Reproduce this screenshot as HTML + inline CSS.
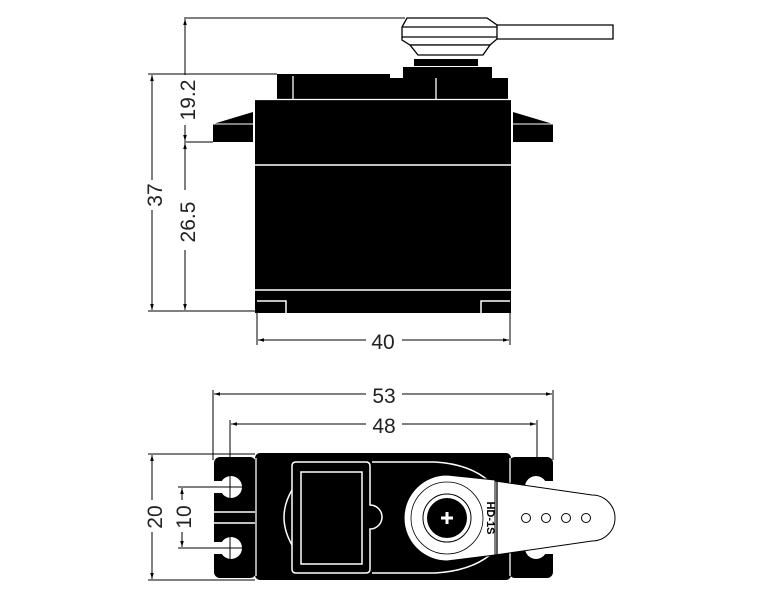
<!DOCTYPE html>
<html><head><meta charset="utf-8"><style>
html,body{margin:0;padding:0;background:#fff;}
svg{display:block;}
text{font-family:"Liberation Sans",sans-serif;fill:#222;}
</style></head><body>
<svg width="766" height="600" viewBox="0 0 766 600" xmlns="http://www.w3.org/2000/svg">
<defs>
<marker id="a" viewBox="0 0 10 10" refX="10" refY="5" markerWidth="8" markerHeight="6" orient="auto-start-reverse"><path d="M0,2 L10,5 L0,8z" fill="#000"/></marker>
</defs>
<g stroke="#000" stroke-width="1" fill="none">
<!-- top view extension lines -->
<line x1="184" y1="18" x2="405" y2="18"/>
<line x1="148" y1="74" x2="277" y2="74"/>
<line x1="184" y1="142" x2="213" y2="142"/>
<line x1="148" y1="311" x2="257" y2="311"/>
<line x1="257" y1="311" x2="257" y2="345"/>
<line x1="510" y1="311" x2="510" y2="345"/>
<!-- dims -->
<line x1="152" y1="75" x2="152" y2="310" marker-start="url(#a)" marker-end="url(#a)"/>
<line x1="185" y1="19" x2="185" y2="141" marker-start="url(#a)" marker-end="url(#a)"/>
<line x1="185" y1="143" x2="185" y2="310" marker-start="url(#a)" marker-end="url(#a)"/>
<line x1="258" y1="340" x2="509" y2="340" marker-start="url(#a)" marker-end="url(#a)"/>
</g>
<g fill="#fff">
<rect x="140" y="180" width="24" height="30"/>
<rect x="174" y="75" width="22" height="50"/>
<rect x="174" y="190" width="22" height="60"/>
<rect x="366" y="330" width="36" height="20"/>
</g>
<text x="162" y="195" font-size="21" transform="rotate(-90 162 195)" text-anchor="middle">37</text>
<text x="195" y="100" font-size="21" transform="rotate(-90 195 100)" text-anchor="middle">19.2</text>
<text x="195" y="222" font-size="21" transform="rotate(-90 195 222)" text-anchor="middle">26.5</text>
<text x="383" y="349" font-size="21" text-anchor="middle">40</text>

<!-- horn side -->
<g stroke="#000" stroke-width="1.3" fill="#fff">
<path d="M497,25 L613,25 L613,39 L497,39"/>
<path d="M407,18 L487,18 L497,25 L497,39 L490,45 L410,45 L402,40 L402,27 Z"/>
<line x1="402" y1="27" x2="497" y2="27"/>
<line x1="402" y1="37" x2="497" y2="37"/>
<path d="M410,45 L490,45 L483,55 L418,55 Z"/>
</g>
<rect x="414" y="59" width="64" height="7" fill="#000"/>
<rect x="403" y="67" width="89" height="11" fill="#000"/>
<!-- top blocks -->
<rect x="277" y="74" width="113" height="25" fill="#000"/>
<rect x="390" y="78" width="118" height="21" fill="#000"/>
<line x1="293" y1="76" x2="293" y2="99" stroke="#fff" stroke-width="1.3"/>
<line x1="436" y1="78" x2="436" y2="99" stroke="#fff" stroke-width="1.3"/>
<!-- body -->
<rect x="255" y="99" width="256" height="214" fill="#000"/>
<line x1="255" y1="99.5" x2="511" y2="99.5" stroke="#fff" stroke-width="1.3"/>
<line x1="255" y1="165" x2="511" y2="165" stroke="#fff" stroke-width="1.5"/>
<line x1="255" y1="290" x2="511" y2="290" stroke="#fff" stroke-width="1.5"/>
<path d="M257,301 L286,301 L286,313" stroke="#fff" stroke-width="1.5" fill="none"/>
<path d="M510,301 L481,301 L481,313" stroke="#fff" stroke-width="1.5" fill="none"/>
<!-- ears -->
<path d="M213,124 L253,112 L253,142 L213,142 Z" fill="#000"/>
<line x1="213" y1="124" x2="253" y2="124" stroke="#fff" stroke-width="1"/>
<path d="M553,124 L513,112 L513,142 L553,142 Z" fill="#000"/>
<line x1="513" y1="124" x2="553" y2="124" stroke="#fff" stroke-width="1"/>

<!-- bottom view dims -->
<g stroke="#000" stroke-width="1" fill="none">
<line x1="213" y1="390" x2="213" y2="460"/>
<line x1="553" y1="390" x2="553" y2="460"/>
<line x1="230" y1="420" x2="230" y2="565"/>
<line x1="537" y1="420" x2="537" y2="565"/>
<line x1="214" y1="394" x2="552" y2="394" marker-start="url(#a)" marker-end="url(#a)"/>
<line x1="231" y1="424" x2="536" y2="424" marker-start="url(#a)" marker-end="url(#a)"/>
<line x1="148" y1="454" x2="255" y2="454"/>
<line x1="148" y1="580" x2="255" y2="580"/>
<line x1="152" y1="455" x2="152" y2="579" marker-start="url(#a)" marker-end="url(#a)"/>
<line x1="178" y1="487" x2="240" y2="487"/>
<line x1="178" y1="548" x2="240" y2="548"/>
<line x1="182" y1="488" x2="182" y2="547" marker-start="url(#a)" marker-end="url(#a)"/>
</g>
<g fill="#fff">
<rect x="366" y="384" width="36" height="20"/>
<rect x="366" y="414" width="36" height="20"/>
<rect x="140" y="500" width="24" height="32"/>
<rect x="172" y="500" width="20" height="32"/>
</g>
<text x="384" y="403" font-size="21" text-anchor="middle">53</text>
<text x="384" y="433" font-size="21" text-anchor="middle">48</text>
<text x="162" y="517" font-size="21" transform="rotate(-90 162 517)" text-anchor="middle">20</text>
<text x="191" y="517" font-size="21" transform="rotate(-90 191 517)" text-anchor="middle">10</text>

<!-- flanges -->
<rect x="214" y="457" width="42" height="121" rx="6" fill="#000"/>
<rect x="509" y="457" width="44" height="121" rx="6" fill="#000"/>
<g fill="#fff">
<circle cx="231" cy="487" r="11"/><rect x="214" y="481" width="14" height="12"/>
<circle cx="231" cy="548" r="11"/><rect x="214" y="542" width="14" height="12"/>
<circle cx="536" cy="487" r="11"/><rect x="538" y="481" width="15" height="12"/>
<circle cx="536" cy="548" r="11"/><rect x="538" y="542" width="15" height="12"/>
</g>
<line x1="214" y1="512" x2="255" y2="512" stroke="#fff" stroke-width="1.5"/>
<line x1="214" y1="523" x2="255" y2="523" stroke="#fff" stroke-width="1.5"/>
<line x1="230" y1="475" x2="230" y2="499" stroke="#000"/>
<line x1="230" y1="536" x2="230" y2="560" stroke="#000"/>
<line x1="214" y1="487" x2="242" y2="487" stroke="#000"/>
<line x1="214" y1="548" x2="242" y2="548" stroke="#000"/>
<!-- body -->
<rect x="255" y="453" width="256" height="127" rx="5" fill="#000"/>
<line x1="256" y1="458" x2="256" y2="576" stroke="#fff" stroke-width="1.3"/>
<line x1="510" y1="458" x2="510" y2="576" stroke="#fff" stroke-width="1.3"/>
<g stroke="#fff" stroke-width="1.5" fill="none">
<path d="M292,490 Q276,517 292,545"/>
<path d="M296,462 L366,462 Q370,462 370,466 L370,505 A12,12 0 0 1 370,529 L370,569 Q370,573 366,573 L296,573 Q292,573 292,569 L292,466 Q292,462 296,462 Z"/>
<rect x="301" y="472" width="61" height="92"/>
<path d="M372,462 L435,462 Q470,464 490,482"/>
<path d="M372,573 L435,573 Q470,571 490,555"/>
</g>
<!-- horn top -->
<path d="M447,475 L495,480 L495,555 L447,561 A43,43 0 0 1 447,475 Z" fill="#fff" stroke="#000" stroke-width="1"/>
<path d="M495,481 L592,495 A23,23 0 0 1 592,541 L495,555 Z" fill="#fff" stroke="#000" stroke-width="1"/>
<line x1="497" y1="481" x2="497" y2="555" stroke="#000" stroke-width="1.3"/>
<circle cx="447" cy="518" r="36" fill="none" stroke="#000" stroke-width="0.8"/>
<circle cx="447" cy="518" r="24" fill="none" stroke="#000" stroke-width="1"/>
<circle cx="447" cy="518" r="20" fill="#000"/>
<path d="M441,516.5h12v3h-12z M445.5,512h3v12h-3z" fill="#fff"/>
<text x="487" y="518" font-size="11" font-weight="bold" transform="rotate(90 487 518)" text-anchor="middle" style="fill:#000">HD-1S</text>
<g fill="#fff" stroke="#000" stroke-width="1">
<circle cx="526" cy="518" r="4.5"/><circle cx="546" cy="518" r="4.5"/>
<circle cx="566" cy="518" r="4.5"/><circle cx="586" cy="518" r="4.5"/>
</g>
</svg>
</body></html>
